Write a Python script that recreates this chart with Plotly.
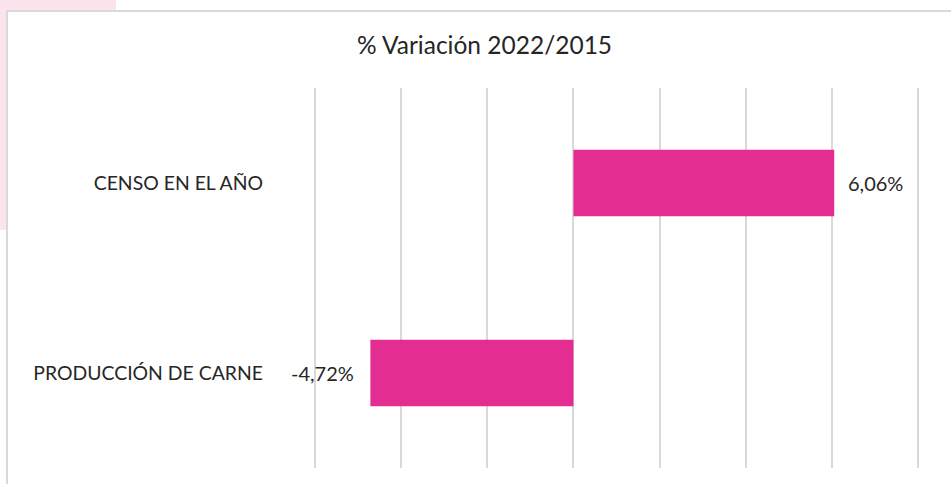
import plotly.graph_objects as go

categories = ["CENSO EN EL AÑO", "PRODUCCIÓN DE CARNE"]
values = [6.06, -4.72]
value_labels = ["6,06%", "-4,72%"]
title_text = "% Variación 2022/2015"

W, H = 951, 484
L, R, T, B = 314, 32, 88, 16
pw, ph = W - L - R, H - T - B
FONT = "Lato, Noto Sans, sans-serif"

def px_x(p):
    return (p - L) / pw

def px_y(p):
    return (H - B - p) / ph

fig = go.Figure()
fig.add_trace(go.Bar(
    x=values, y=categories, orientation="h",
    marker=dict(color="#E32D91", line=dict(width=0)),
    hoverinfo="skip",
))

for v, c, lab in zip(values, categories, value_labels):
    fig.add_annotation(
        x=v, y=c, xref="x", yref="y", text=lab, showarrow=False,
        xanchor="left" if v > 0 else "right",
        xshift=12 if v > 0 else -14,
        font=dict(family=FONT, size=20, color="#262626"),
    )

shapes = [
    dict(type="rect", xref="paper", yref="paper", x0=px_x(0), x1=px_x(116), y0=px_y(0), y1=px_y(10),
         fillcolor="#FCE4EE", line=dict(width=0), layer="below"),
    dict(type="rect", xref="paper", yref="paper", x0=px_x(0), x1=px_x(6), y0=px_y(0), y1=px_y(230),
         fillcolor="#FCE4EE", line=dict(width=0), layer="below"),
    dict(type="line", xref="paper", yref="paper", x0=px_x(6), x1=px_x(951), y0=px_y(11), y1=px_y(11),
         line=dict(color="#D9D9D9", width=2)),
    dict(type="line", xref="paper", yref="paper", x0=px_x(7), x1=px_x(7), y0=px_y(10), y1=px_y(484),
         line=dict(color="#D9D9D9", width=2)),
]

fig.update_layout(
    width=W, height=H,
    margin=dict(l=L, r=R, t=T, b=B, pad=0),
    paper_bgcolor="white", plot_bgcolor="white",
    showlegend=False,
    bargap=0.65,
    shapes=shapes,
    title=dict(text=title_text, x=484.5 / W, xanchor="center", y=1 - 45 / H, yanchor="middle",
               font=dict(family=FONT, size=24.5, color="#262626")),
    xaxis=dict(range=[-6.03, 8.03], dtick=2, tick0=0, showgrid=True, gridcolor="#D9D9D9", gridwidth=2,
               zeroline=True, zerolinecolor="#D9D9D9", zerolinewidth=2,
               showticklabels=False, ticks="", showline=False, fixedrange=True),
    yaxis=dict(categoryorder="array", categoryarray=categories[::-1], showgrid=False,
               zeroline=False, showline=False, ticks="", ticklabelstandoff=50,
               tickfont=dict(family=FONT, size=19.4, color="#262626"),
               fixedrange=True),
)

fig.write_html("out.html", config={"displayModeBar": False},
               post_script="document.body.style.margin='0';document.body.style.overflow='hidden';")
